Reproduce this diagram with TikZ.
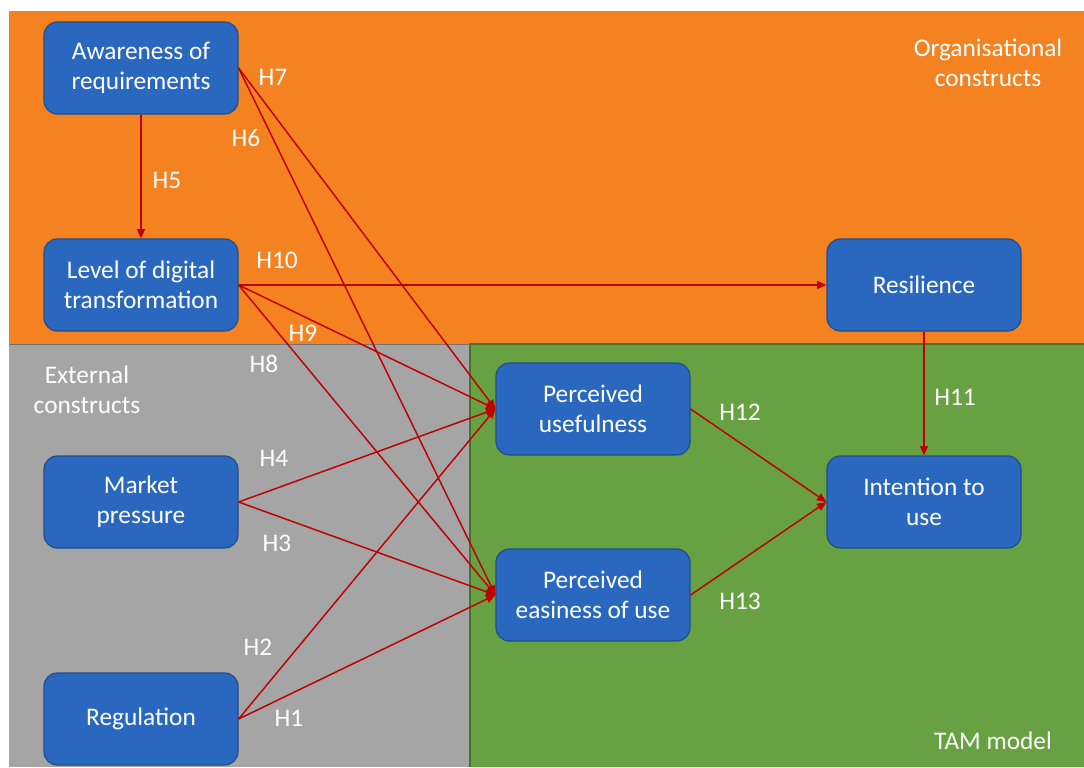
\documentclass[tikz,border=0pt]{standalone}
\usepackage{fontspec}
\setmainfont{Carlito}
\usetikzlibrary{arrows.meta}
\definecolor{orgc}{HTML}{F58220}
\definecolor{extc}{HTML}{A5A5A5}
\definecolor{tamc}{HTML}{68A142}
\definecolor{boxc}{HTML}{2A67BE}
\definecolor{boxb}{HTML}{1F4E8C}
\definecolor{arrc}{HTML}{C00000}
\begin{document}
\begin{tikzpicture}[x=0.75pt,y=-0.75pt,
  cbox/.style={draw=boxb,line width=0.9pt,fill=boxc,rounded corners=10pt,
    minimum width=145.5pt,minimum height=69pt,text=white,align=center,
    font=\fontsize{19}{22.5}\selectfont,inner sep=0pt},
  hyp/.style={text=white,font=\fontsize{19}{22}\selectfont,inner sep=0pt},
  area/.style={text=white,font=\fontsize{19}{22.5}\selectfont,inner sep=0pt,align=center},
  conn/.style={draw=arrc,line width=1.1pt,-{Triangle[length=7pt,width=6pt]}}]
\useasboundingbox (0,0) rectangle (1084,767);
\fill[white] (0,0) rectangle (1084,767);
% regions
\fill[orgc] (9,11) rectangle (1084,344);
\fill[extc] (9,344) rectangle (470,767);
\fill[tamc] (470,344) rectangle (1084,767);
\draw[extc!70!black,line width=0.6pt] (9,344) -- (470,344);
\draw[tamc!70!black,line width=0.8pt] (1084,344) -- (470,344) -- (470,767);
% boxes
\node[cbox] (aw) at (141,68) {Awareness of\\requirements};
\node[cbox] (lv) at (141,285) {Level of digital\\transformation};
\node[cbox] (mp) at (141,502) {Market\\pressure};
\node[cbox] (rg) at (141,719) {Regulation};
\node[cbox] (pu) at (593,409) {Perceived\\usefulness};
\node[cbox] (pe) at (593,595) {Perceived\\easiness of use};
\node[cbox] (rs) at (924,285) {Resilience};
\node[cbox] (iu) at (924,502) {Intention to\\use};
% area labels
\node[area] (orgl) at (988,63) {Organisational\\constructs};
\node[area] (extl) at (87,390) {External\\constructs};
\node[area] (taml) at (993,741) {TAM model};
% connectors
\draw[conn] (aw.south) -- (lv.north);
\draw[conn] (aw.east) -- (pu.west);
\draw[conn] (aw.east) -- (pe.west);
\draw[conn] (lv.east) -- (rs.west);
\draw[conn] (lv.east) -- (pu.west);
\draw[conn] (lv.east) -- (pe.west);
\draw[conn] (mp.east) -- (pu.west);
\draw[conn] (mp.east) -- (pe.west);
\draw[conn] (rg.east) -- (pu.west);
\draw[conn] (rg.east) -- (pe.west);
\draw[conn] (pu.east) -- (iu.west);
\draw[conn] (pe.east) -- (iu.west);
\draw[conn] (rs.south) -- (iu.north);
% hypothesis labels
\node[hyp] (h7) at (273,77) {H7};
\node[hyp] (h6) at (246,138) {H6};
\node[hyp] (h5) at (167,180) {H5};
\node[hyp] (h10) at (277,260) {H10};
\node[hyp] (h9) at (303,333) {H9};
\node[hyp] (h8) at (264,364) {H8};
\node[hyp] (h4) at (274,458) {H4};
\node[hyp] (h3) at (277,543) {H3};
\node[hyp] (h2) at (258,647) {H2};
\node[hyp] (h1) at (289,718) {H1};
\node[hyp] (h12) at (740,412) {H12};
\node[hyp] (h13) at (740,601) {H13};
\node[hyp] (h11) at (955,397) {H11};
\end{tikzpicture}
\end{document}
